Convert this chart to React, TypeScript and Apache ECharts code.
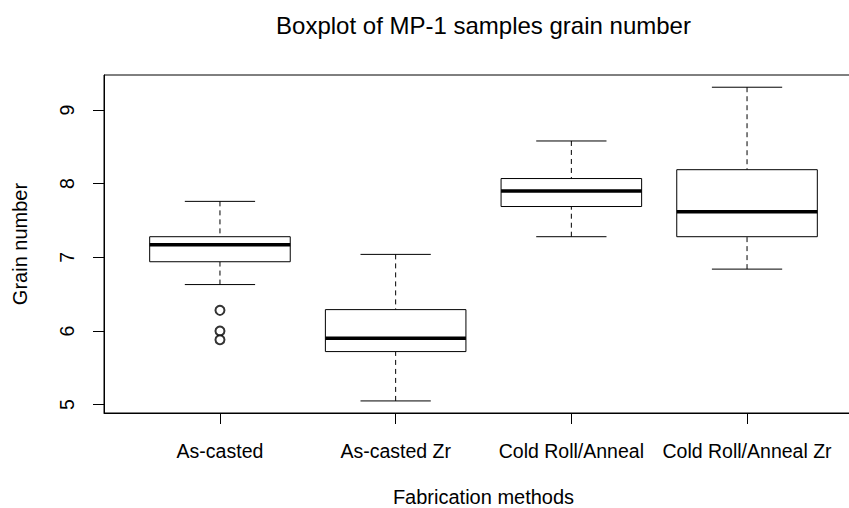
import React, { useEffect, useRef } from "react";
import * as echarts from "echarts";

const categories = ["As-casted", "As-casted Zr", "Cold Roll/Anneal", "Cold Roll/Anneal Zr"];
const lowerWhisker = [6.63, 5.05, 7.28, 6.84];
const q1 = [6.94, 5.72, 7.69, 7.28];
const median = [7.17, 5.9, 7.9, 7.62];
const q3 = [7.28, 6.29, 8.07, 8.19];
const upperWhisker = [7.76, 7.04, 8.58, 9.31];
const outlierGroup = [1, 1, 1];
const outlierValues = [6.28, 6.0, 5.88];
const yTicks = [5, 6, 7, 8, 9];
const xTicks = [1, 2, 3, 4];

const FONT = "'Liberation Sans', Arial, sans-serif";
const INK = "#000";

export default function App() {
  const ref = useRef<HTMLDivElement>(null);
  useEffect(() => {
    if (!ref.current) return;
    const chart = echarts.init(ref.current, null, { renderer: "svg" });
    const boxData = categories.map((_, i) => [
      i + 1,
      lowerWhisker[i],
      q1[i],
      median[i],
      q3[i],
      upperWhisker[i],
    ]);
    const outliers = outlierValues.map((v, i) => [outlierGroup[i], v]);
    const halfBox = 0.4;
    const halfCap = 0.2;

    const option: any = {
      animation: false,
      backgroundColor: "#fff",
      title: {
        text: "Boxplot of MP-1 samples grain number",
        left: 483.5,
        top: 13,
        padding: 0,
        textAlign: "center",
        textStyle: { fontFamily: FONT, fontSize: 24, fontWeight: "normal", color: INK },
      },
      grid: {
        left: 104,
        top: 75,
        width: 759,
        height: 338,
        outerBoundsMode: "none",
        containLabel: false,
        show: true,
        borderColor: INK,
        borderWidth: 1,
        backgroundColor: "transparent",
      },
      xAxis: {
        type: "value",
        min: 0.34,
        max: 4.66,
        name: "Fabrication methods",
        nameLocation: "middle",
        nameGap: 74,
        nameTextStyle: { fontFamily: FONT, fontSize: 20, color: INK },
        axisLine: { show: true, lineStyle: { color: INK, width: 1 } },
        axisTick: { show: true, length: 11, customValues: xTicks, lineStyle: { color: INK } },
        axisLabel: {
          customValues: xTicks,
          margin: 28,
          fontFamily: FONT,
          fontSize: 19.5,
          color: INK,
          formatter: (v: number) => categories[Math.round(v) - 1] ?? "",
        },
        splitLine: { show: false },
      },
      yAxis: {
        type: "value",
        min: 4.886,
        max: 9.476,
        name: "Grain number",
        nameLocation: "middle",
        nameGap: 74,
        nameTextStyle: { fontFamily: FONT, fontSize: 20, color: INK },
        axisLine: { show: true, lineStyle: { color: INK, width: 1 } },
        axisTick: { show: true, length: 11, customValues: yTicks, lineStyle: { color: INK } },
        axisLabel: {
          customValues: yTicks,
          rotate: 90,
          margin: 27,
          fontFamily: FONT,
          fontSize: 19.5,
          color: INK,
        },
        splitLine: { show: false },
      },
      series: [
        {
          type: "custom",
          data: boxData,
          encode: { x: 0, y: [1, 2, 3, 4, 5] },
          renderItem: (params: any, api: any) => {
            const x = api.value(0);
            const lo = api.value(1);
            const a = api.value(2);
            const m = api.value(3);
            const b = api.value(4);
            const hi = api.value(5);
            const pL = api.coord([x - halfBox, b]);
            const pR = api.coord([x + halfBox, a]);
            const cMid = api.coord([x, m]);
            const mL = api.coord([x - halfBox, m]);
            const mR = api.coord([x + halfBox, m]);
            const top = api.coord([x, hi]);
            const bot = api.coord([x, lo]);
            const q3c = api.coord([x, b]);
            const q1c = api.coord([x, a]);
            const capL = api.coord([x - halfCap, hi])[0];
            const capR = api.coord([x + halfCap, hi])[0];
            const line = { stroke: INK, lineWidth: 1 };
            const dashed = { stroke: INK, lineWidth: 1, lineDash: [5, 4] };
            return {
              type: "group",
              children: [
                { type: "line", shape: { x1: top[0], y1: top[1], x2: q3c[0], y2: q3c[1] }, style: dashed },
                { type: "line", shape: { x1: bot[0], y1: bot[1], x2: q1c[0], y2: q1c[1] }, style: dashed },
                { type: "line", shape: { x1: capL, y1: top[1], x2: capR, y2: top[1] }, style: line },
                { type: "line", shape: { x1: capL, y1: bot[1], x2: capR, y2: bot[1] }, style: line },
                {
                  type: "rect",
                  shape: { x: pL[0], y: pL[1], width: pR[0] - pL[0], height: pR[1] - pL[1] },
                  style: { fill: "#fff", stroke: INK, lineWidth: 1 },
                },
                { type: "line", shape: { x1: mL[0], y1: cMid[1], x2: mR[0], y2: cMid[1] }, style: { stroke: INK, lineWidth: 3.5 } },
              ],
            };
          },
        },
        {
          type: "scatter",
          data: outliers,
          symbol: "emptyCircle",
          symbolSize: 9,
          itemStyle: { color: INK, borderColor: INK, borderWidth: 1 },
        },
      ],
    };
    chart.setOption(option);
    return () => chart.dispose();
  }, []);
  return (
    <div
      ref={ref}
      style={{ position: "fixed", left: 0, top: 0, width: 849, height: 508, background: "#fff" }}
    />
  );
}
